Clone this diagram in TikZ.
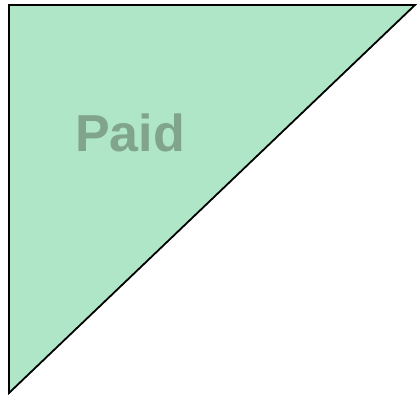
\documentclass[tikz,border=0pt]{standalone}
\usepackage{fontspec}
\setmainfont{Liberation Sans}
\definecolor{fillgreen}{HTML}{B0E6C8}
\definecolor{textgreen}{HTML}{80A48C}
\begin{document}
\begin{tikzpicture}[x=1pt,y=1pt,
  tri/.style={fill=fillgreen,draw=black,line width=1.8pt,line join=miter},
  lbl/.style={text=textgreen,font=\bfseries\fontsize{52}{52}\selectfont,inner sep=0pt,anchor=base}]
\useasboundingbox (0,0) rectangle (417,398);
\coordinate (tl) at (9,393);
\coordinate (tr) at (415,393);
\coordinate (bl) at (9,5);
\draw[tri] (tl) -- (tr) -- (bl) -- cycle;
\node[lbl] (paid) at (130,246) {Paid};
\end{tikzpicture}
\end{document}
